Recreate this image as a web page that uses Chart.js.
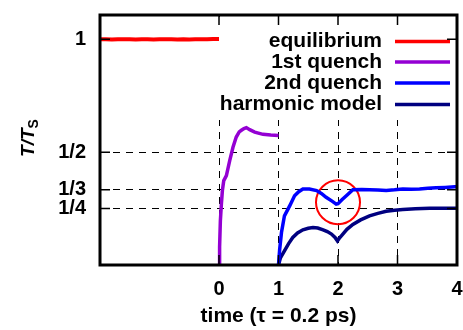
<!DOCTYPE html>
<html><head><meta charset="utf-8">
<script src="https://cdn.jsdelivr.net/npm/chart.js@4/dist/chart.umd.min.js"></script>
<style>html,body{margin:0;padding:0;background:#fff}#wrap{width:463px;height:330px}</style>
</head><body><div id="wrap"><canvas id="c" width="463" height="330"></canvas></div>
<script>
// ---- data ----
const equilibriumX = [-2, -1.9, -1.8, -1.7, -1.6, -1.5, -1.4, -1.3, -1.2, -1.1, -1.0, -0.9, -0.8, -0.7, -0.6, -0.5, -0.4, -0.3, -0.2, -0.1, 0];
const equilibriumY = [1.000, 1.001, 0.999, 1.001, 1.000, 1.001, 0.999, 1.001, 1.000, 0.999, 1.001, 1.000, 1.001, 0.999, 1.001, 0.999, 1.000, 1.001, 1.000, 1.002, 1.002];

const quench1X = [0, 0.01, 0.023, 0.04, 0.057, 0.08, 0.124, 0.18, 0.235, 0.29, 0.34, 0.376, 0.42, 0.46, 0.516, 0.6, 0.74, 0.87, 1.0];
const quench1Y = [0, 0.08, 0.196, 0.27, 0.33, 0.374, 0.396, 0.463, 0.522, 0.567, 0.59, 0.597, 0.605, 0.609, 0.600, 0.589, 0.579, 0.576, 0.574];

const quench2X = [1.0, 1.02, 1.05, 1.1, 1.19, 1.27, 1.34, 1.41, 1.52, 1.64, 1.72, 1.8, 1.9, 1.97, 2.0, 2.07, 2.14, 2.25, 2.4, 2.53, 2.67, 2.81, 2.95, 3.09, 3.23, 3.37, 3.51, 3.65, 3.8, 3.96, 4.0];
const quench2Y = [0, 0.07, 0.144, 0.218, 0.263, 0.307, 0.325, 0.337, 0.337, 0.33, 0.317, 0.30, 0.283, 0.27, 0.272, 0.29, 0.307, 0.334, 0.335, 0.334, 0.332, 0.33, 0.333, 0.337, 0.336, 0.337, 0.34, 0.342, 0.344, 0.347, 0.347];

const harmonicX = [1.0, 1.03, 1.1, 1.17, 1.24, 1.32, 1.41, 1.5, 1.58, 1.66, 1.75, 1.82, 1.89, 1.95, 1.99, 2.02, 2.06, 2.15, 2.25, 2.38, 2.53, 2.67, 2.81, 2.95, 3.09, 3.3, 3.54, 3.75, 4.0];
const harmonicY = [0, 0.03, 0.063, 0.095, 0.122, 0.142, 0.156, 0.163, 0.166, 0.164, 0.156, 0.148, 0.137, 0.122, 0.107, 0.118, 0.13, 0.158, 0.18, 0.2, 0.218, 0.229, 0.238, 0.243, 0.246, 0.249, 0.251, 0.252, 0.252];

const circleX = [2];
const circleY = [0.278];

const seriesNames = ['equilibrium', '1st quench', '2nd quench', 'harmonic model'];
const xTickValues = [0, 1, 2, 3, 4];
const yTickValues = [0.25, 1/3, 0.5, 1];
const yTickLabels = ['1/4', '1/3', '1/2', '1'];
const xTitle = 'time (\u03C4 = 0.2 ps)';

// ---- helpers ----
const pts = (xs, ys) => xs.map((x, i) => ({x, y: ys[i]}));
const FONT = '"Liberation Sans", Arial, sans-serif';
const colors = ['#ff0000', '#9400d3', '#0000ff', '#000080'];

const framePlugin = {
  id: 'frame',
  beforeDatasetsDraw(chart) {
    // opaque key box hides the grid lines behind the legend
    const ctx = chart.ctx;
    const a = chart.chartArea;
    ctx.save();
    ctx.fillStyle = '#fff';
    ctx.fillRect(212, a.top + 2, a.right - 212 - 1, 118 - a.top);
    ctx.restore();
  },
  afterDatasetsDraw(chart) {
    const ctx = chart.ctx;
    const a = chart.chartArea;
    const xs = chart.scales.x, ys = chart.scales.y;
    ctx.save();
    ctx.font = 'bold 21px ' + FONT;
    ctx.textAlign = 'right';
    ctx.textBaseline = 'middle';
    const rowY = [41.5, 62, 83, 104.5];
    chart.data.datasets.slice(0, 4).forEach((ds, i) => {
      ctx.fillStyle = '#000';
      ctx.fillText(ds.label, 382, rowY[i]);
      ctx.strokeStyle = ds.borderColor;
      ctx.lineWidth = 3.5;
      ctx.beginPath();
      ctx.moveTo(395, rowY[i]);
      ctx.lineTo(450, rowY[i]);
      ctx.stroke();
    });
    // ticks
    ctx.strokeStyle = '#000';
    ctx.lineWidth = 1.5;
    const tl = 10;
    xTickValues.forEach(v => {
      const px = xs.getPixelForValue(v);
      ctx.beginPath();
      ctx.moveTo(px, a.bottom); ctx.lineTo(px, a.bottom - tl);
      ctx.moveTo(px, a.top); ctx.lineTo(px, a.top + tl);
      ctx.stroke();
    });
    yTickValues.forEach(v => {
      const py = ys.getPixelForValue(v);
      ctx.beginPath();
      ctx.moveTo(a.left, py); ctx.lineTo(a.left + tl, py);
      ctx.moveTo(a.right, py); ctx.lineTo(a.right - tl, py);
      ctx.stroke();
    });
    // frame
    ctx.lineWidth = 3;
    ctx.strokeRect(a.left, a.top, a.right - a.left, a.bottom - a.top);
    // y title  T/T_S rotated
    ctx.translate(27, (a.top + a.bottom) / 2 - 2);
    ctx.rotate(-Math.PI / 2);
    ctx.fillStyle = '#000';
    ctx.textAlign = 'left';
    ctx.textBaseline = 'alphabetic';
    const big = 'italic bold 19px ' + FONT;
    const sub = 'bold 14px ' + FONT;
    ctx.font = big;
    const w1 = ctx.measureText('T/T').width;
    ctx.font = sub;
    const w2 = ctx.measureText('S').width;
    const start = -(w1 + w2) / 2;
    ctx.font = big;
    ctx.fillText('T/T', start, 7);
    ctx.font = sub;
    ctx.fillText('S', start + w1, 11);
    ctx.restore();
  }
};

new Chart(document.getElementById('c'), {
  type: 'scatter',
  data: {
    datasets: [
      {label: seriesNames[0], data: pts(equilibriumX, equilibriumY), borderColor: colors[0], showLine: true, borderWidth: 4, pointRadius: 0, tension: 0},
      {label: seriesNames[1], data: pts(quench1X, quench1Y), borderColor: colors[1], showLine: true, borderWidth: 3.5, pointRadius: 0, tension: 0},
      {label: seriesNames[2], data: pts(quench2X, quench2Y), borderColor: colors[2], showLine: true, borderWidth: 3.5, pointRadius: 0, tension: 0},
      {label: seriesNames[3], data: pts(harmonicX, harmonicY), borderColor: colors[3], showLine: true, borderWidth: 3.5, pointRadius: 0, tension: 0},
      {label: 'circle', data: pts(circleX, circleY), showLine: false, pointRadius: 22, pointHoverRadius: 22, pointBorderWidth: 2, pointBorderColor: '#ff0000', pointBackgroundColor: 'rgba(0,0,0,0)', borderColor: '#ff0000', backgroundColor: 'rgba(0,0,0,0)'}
    ]
  },
  options: {
    responsive: false,
    devicePixelRatio: 1,
    animation: false,
    events: [],
    layout: {autoPadding: false, padding: {left: 0, top: 15, right: 6, bottom: 0}},
    plugins: {legend: {display: false}, tooltip: {enabled: false}},
    scales: {
      x: {
        type: 'linear', min: -2, max: 4,
        afterBuildTicks: s => { s.ticks = xTickValues.map(v => ({value: v})); },
        afterFit: s => { s.height = 65; s.paddingLeft = 0; s.paddingRight = 0; },
        ticks: {autoSkip: false, maxRotation: 0, color: '#000', padding: 12, font: {family: FONT, size: 20, weight: 'bold'}, callback: v => String(v)},
        grid: {color: '#000', lineWidth: 1, drawTicks: false},
        border: {display: false, dash: [7, 6]},
        title: {display: true, text: xTitle, color: '#000', font: {family: FONT, size: 21, weight: 'bold'}, padding: {top: 0, bottom: 1}}
      },
      y: {
        type: 'linear', min: 0, max: 1.108,
        afterBuildTicks: s => { s.ticks = yTickValues.map(v => ({value: v})); },
        afterFit: s => { s.width = 100; s.paddingTop = 0; s.paddingBottom = 0; },
        ticks: {autoSkip: false, color: '#000', padding: 14, font: {family: FONT, size: 20, weight: 'bold'},
          callback: (v) => { const i = yTickValues.findIndex(t => Math.abs(t - v) < 1e-6); return i >= 0 ? yTickLabels[i] : ''; }},
        grid: {color: '#000', lineWidth: 1, drawTicks: false},
        border: {display: false, dash: [7, 6]}
      }
    }
  },
  plugins: [framePlugin]
});
</script>
</body></html>
